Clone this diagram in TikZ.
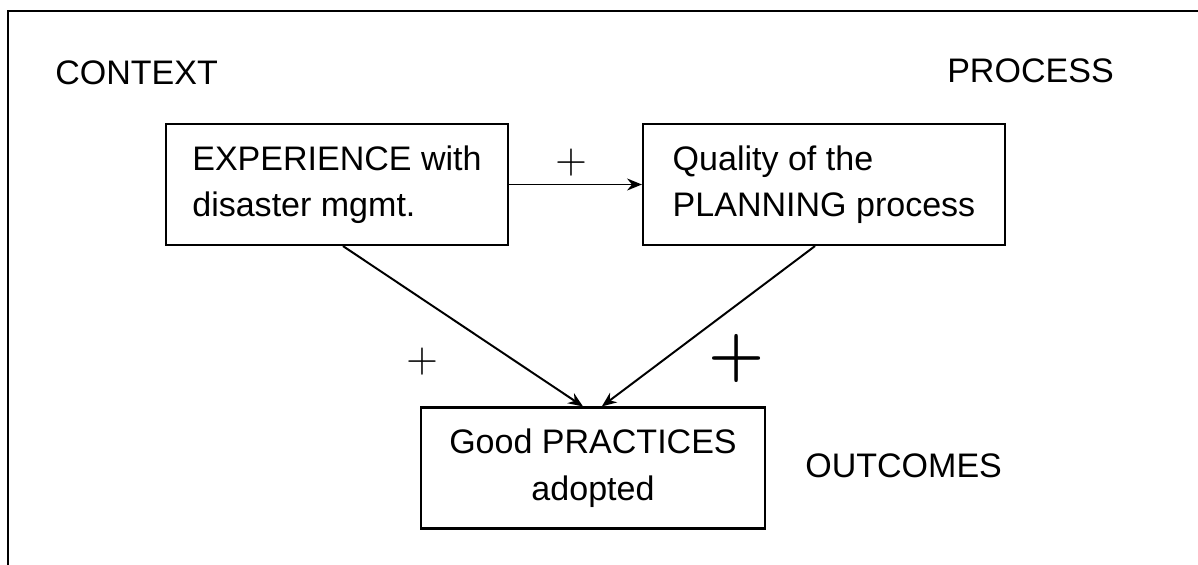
\documentclass[tikz,border=0pt]{standalone}
\usepackage{amsmath}
\usepackage{graphicx}
\usepackage{fontspec}
\setmainfont{Liberation Sans}
\usepackage{tikz}
\usetikzlibrary{calc,arrows.meta,positioning}

\tikzset{
    factorbox/.style={draw, line width=1.5pt, minimum height=3.025cm, inner ysep=0pt,
        font=\fontsize{24.2}{33}\selectfont},
    headlabel/.style={anchor=west, inner sep=0pt, font=\fontsize{24.2}{28}\selectfont},
    signlabel/.style={inner sep=0pt, font=\fontsize{20}{20}\selectfont},
    link/.style={->, line width=1.4pt}
}

\begin{document}
\begin{tikzpicture}[x=0.025cm, y=-0.025cm, >={Stealth[length=10.5pt,width=8.5pt]}]
    \useasboundingbox (0,0) rectangle (1198,565);

    % Frame (only top and left edges visible)
    \draw[line width=1.6pt] (1198,11) -- (8,11) -- (8,565);

    % Headings
    \node[headlabel] (ctx) at (55,73) {CONTEXT};
    \node[headlabel] (proc) at (947,71) {PROCESS};
    \node[headlabel] (outc) at (805,466) {OUTCOMES};

    % Boxes
    \node[factorbox, minimum width=8.55cm, align=left] (exp) at (337,184.5)
        {EXPERIENCE with\\disaster mgmt.};
    \node[factorbox, minimum width=9.05cm, align=left] (plan) at (824,184.5)
        {Quality of the\\PLANNING process};
    \node[factorbox, minimum width=8.6cm, align=center] (pract) at (593,468)
        {Good PRACTICES\\adopted};

    % Links
    \draw[link] (exp.east) -- (plan.west);
    \draw[link] ([xshift=0.15cm]exp.south) -- ([xshift=-0.25cm]pract.north);
    \draw[link] ([xshift=-0.225cm]plan.south) -- ([xshift=0.22cm]pract.north);

    % Signs
    \node[signlabel] (s1) at (571,163) {\scalebox{1.5}{$+$}};
    \node[signlabel] (s2) at (422,362) {\scalebox{1.5}{$+$}};
    \node[signlabel, font=\fontsize{20}{20}\selectfont\boldmath] (s3) at (737,358) {\scalebox{2.2}{$+$}};
\end{tikzpicture}
\end{document}
